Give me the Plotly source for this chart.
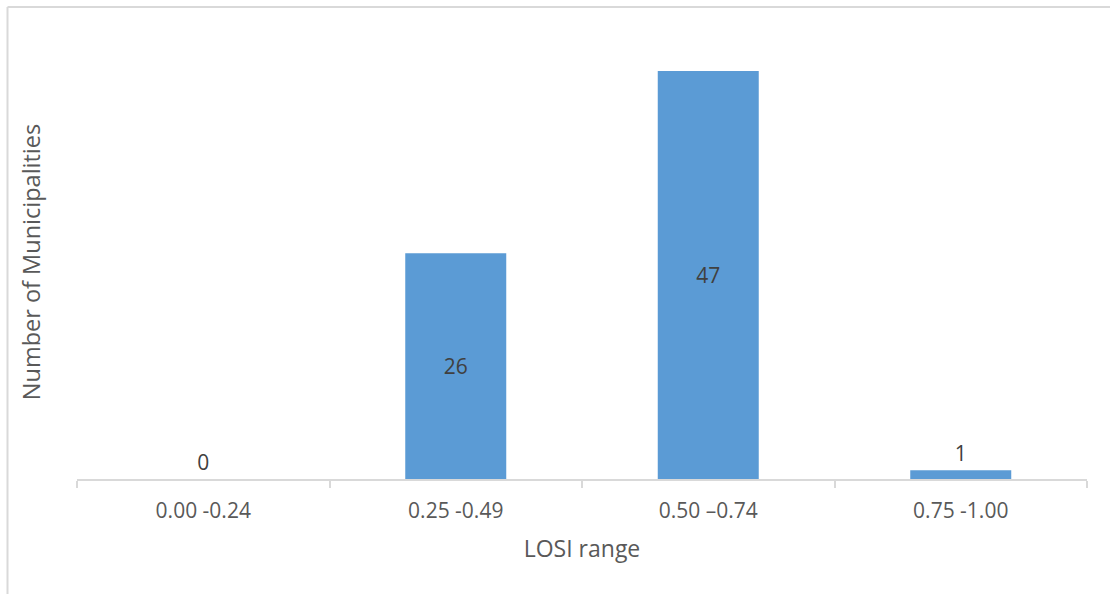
import plotly.graph_objects as go

# LOSI ranges and municipality counts
categories = ["0.00 -0.24", "0.25 -0.49", "0.50 \u20130.74", "0.75 -1.00"]
counts = [0, 26, 47, 1]
label_positions = ["outside", "inside", "inside", "outside"]

bar_color = "#5B9BD5"
text_color = "#404040"
axis_text = "#595959"
line_color = "#D9D9D9"
font_family = "Open Sans, Lato, sans-serif"

fig = go.Figure(
    go.Bar(
        x=categories,
        y=counts,
        width=0.4,
        marker=dict(color=bar_color, line=dict(width=0)),
        text=[str(v) for v in counts],
        textposition=label_positions,
        insidetextanchor="middle",
        textfont=dict(family=font_family, size=21, color=text_color),
        cliponaxis=False,
        hoverinfo="x+y",
    )
)

fig.update_layout(
    width=1110,
    height=594,
    margin=dict(l=77, r=23, t=45, b=115),
    paper_bgcolor="white",
    plot_bgcolor="white",
    showlegend=False,
    font=dict(family=font_family, color=axis_text),
    xaxis=dict(
        showline=True,
        linecolor=line_color,
        linewidth=1.5,
        ticks="outside",
        tickson="boundaries",
        ticklen=7,
        tickcolor=line_color,
        tickwidth=1.5,
        ticklabelstandoff=12,
        tickfont=dict(size=21, color=axis_text),
        showgrid=False,
        title=dict(text="LOSI range", font=dict(size=23, color=axis_text), standoff=18),
    ),
    yaxis=dict(
        range=[0, 50],
        showgrid=False,
        showticklabels=False,
        showline=False,
        zeroline=False,
        title=dict(text="Number of Municipalities", font=dict(size=23.5, color=axis_text), standoff=28),
    ),
    shapes=[
        # chart frame along the top and left edges
        dict(type="line", xref="paper", yref="paper",
             x0=-0.0688, x1=1.05, y0=1.0875, y1=1.0875,
             line=dict(color=line_color, width=2)),
        dict(type="line", xref="paper", yref="paper",
             x0=-0.0688, x1=-0.0688, y0=1.0875, y1=-0.3,
             line=dict(color=line_color, width=2)),
    ],
)

fig.write_html("out.html")
